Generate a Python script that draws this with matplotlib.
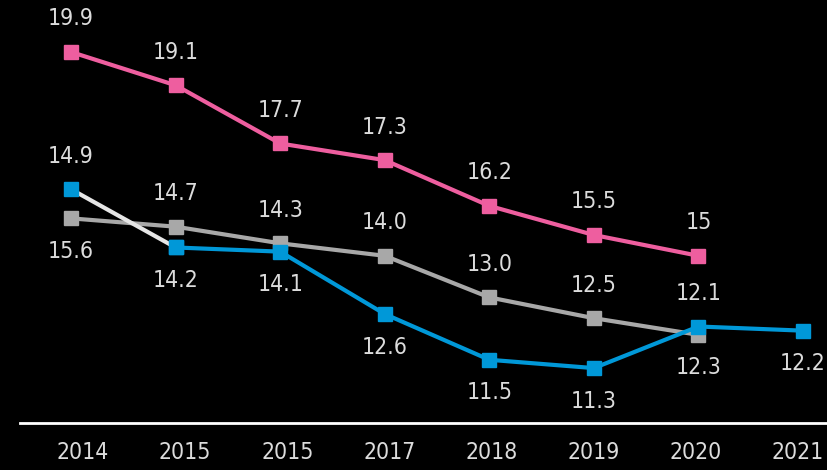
import matplotlib
matplotlib.use("Agg")
from matplotlib import pyplot as plt
from matplotlib import font_manager

years = ["2014", "2015", "2015", "2017", "2018", "2019", "2020", "2021"]

pink_vals = [19.9, 19.1, 17.7, 17.3, 16.2, 15.5, 15.0]
pink_labels = ["19.9", "19.1", "17.7", "17.3", "16.2", "15.5", "15"]

# gray and blue sit on a second scale, shifted one unit from the pink one
gray_vals = [14.9, 14.7, 14.3, 14.0, 13.0, 12.5, 12.1]
gray_labels = ["15.6", "14.7", "14.3", "14.0", "13.0", "12.5", "12.3"]
gray_side = [-1, 1, 1, 1, 1, 1, -1]

blue_vals = [15.6, 14.2, 14.1, 12.6, 11.5, 11.3, 12.3, 12.2]
blue_labels = ["14.9", "14.2", "14.1", "12.6", "11.5", "11.3", "12.1", "12.2"]
blue_side = [1, -1, -1, -1, -1, -1, 1, -1]

PINK = "#ee5e9f"
GRAY = "#a8a8a8"
BLUE = "#0098d8"
TXT = "#dcdcdc"

# look for a narrow face, the reference uses a condensed sans
narrow = None
for f in font_manager.fontManager.ttflist:
    fn = f.fname.replace("\\", "/").split("/")[-1].lower()
    if "liberationsansnarrow-regular" in fn:
        narrow = f.fname
        break
if narrow is None:
    for f in font_manager.fontManager.ttflist:
        fn = f.fname.replace("\\", "/").split("/")[-1].lower()
        if fn == "dejavusanscondensed.ttf":
            narrow = f.fname
            break

if narrow is not None and "narrow" in narrow.lower():
    fp = font_manager.FontProperties(fname=narrow, size=17)
elif narrow is not None:
    fp = font_manager.FontProperties(fname=narrow, size=16.5)
else:
    fp = font_manager.FontProperties(family="Liberation Sans", size=15.5)

fig = plt.figure(figsize=(8.28, 4.70), dpi=100, facecolor="black")
ax = fig.add_axes([20 / 828, 47 / 470, 808 / 828, 423 / 470])
ax.set_facecolor("black")
ax2 = ax.twinx()
ax2.patch.set_visible(False)

ylo, yhi = 10.98, 21.15
ax.set_ylim(ylo, yhi)
ax2.set_ylim(ylo - 1, yhi - 1)
ax.set_xlim(-0.488, 7.239)

x = list(range(len(years)))
lw, ms = 3.0, 10

ax.plot(x[:len(pink_vals)], pink_vals, color=PINK, lw=lw, marker="s", ms=ms, zorder=3)
ax2.plot(x[:len(gray_vals)], gray_vals, color=GRAY, lw=lw, marker="s", ms=ms, zorder=2)
ax2.plot(x[1:], blue_vals[1:], color=BLUE, lw=lw, marker="s", ms=ms, zorder=3)
ax2.plot(x[:2], blue_vals[:2], color="#e6e6e6", lw=lw, zorder=3)
ax2.plot(x[:2], blue_vals[:2], color=BLUE, lw=0, marker="s", ms=ms, zorder=4)

off = 33
for xi, v, t in zip(x, pink_vals, pink_labels):
    ax.annotate(t, (xi, v), xytext=(0, off), textcoords="offset pixels",
                ha="center", va="center", color=TXT, fontproperties=fp, annotation_clip=False)
for xi, v, t, s in zip(x, gray_vals, gray_labels, gray_side):
    ax2.annotate(t, (xi, v), xytext=(0, s * off), textcoords="offset pixels",
                 ha="center", va="center", color=TXT, fontproperties=fp, annotation_clip=False)
for xi, v, t, s in zip(x, blue_vals, blue_labels, blue_side):
    ax2.annotate(t, (xi, v), xytext=(0, s * off), textcoords="offset pixels",
                 ha="center", va="center", color=TXT, fontproperties=fp, annotation_clip=False)

for a in (ax, ax2):
    for sp in a.spines.values():
        sp.set_visible(False)
    a.set_yticks([])
    a.set_xticks([])
ax.spines["bottom"].set_visible(True)
ax.spines["bottom"].set_color("white")
ax.spines["bottom"].set_linewidth(2)

# year labels are spaced a little tighter than the points
ax3 = ax.twiny()
ax3.patch.set_visible(False)
for sp in ax3.spines.values():
    sp.set_visible(False)
ax3.set_xlim(-0.617, 7.297)
ax3.xaxis.set_ticks_position("bottom")
ax3.set_xticks(x)
ax3.set_xticklabels(years, color=TXT, fontproperties=fp)
ax3.tick_params(axis="x", length=0, pad=13)

fig.savefig("out.png", dpi=100, facecolor="black")
